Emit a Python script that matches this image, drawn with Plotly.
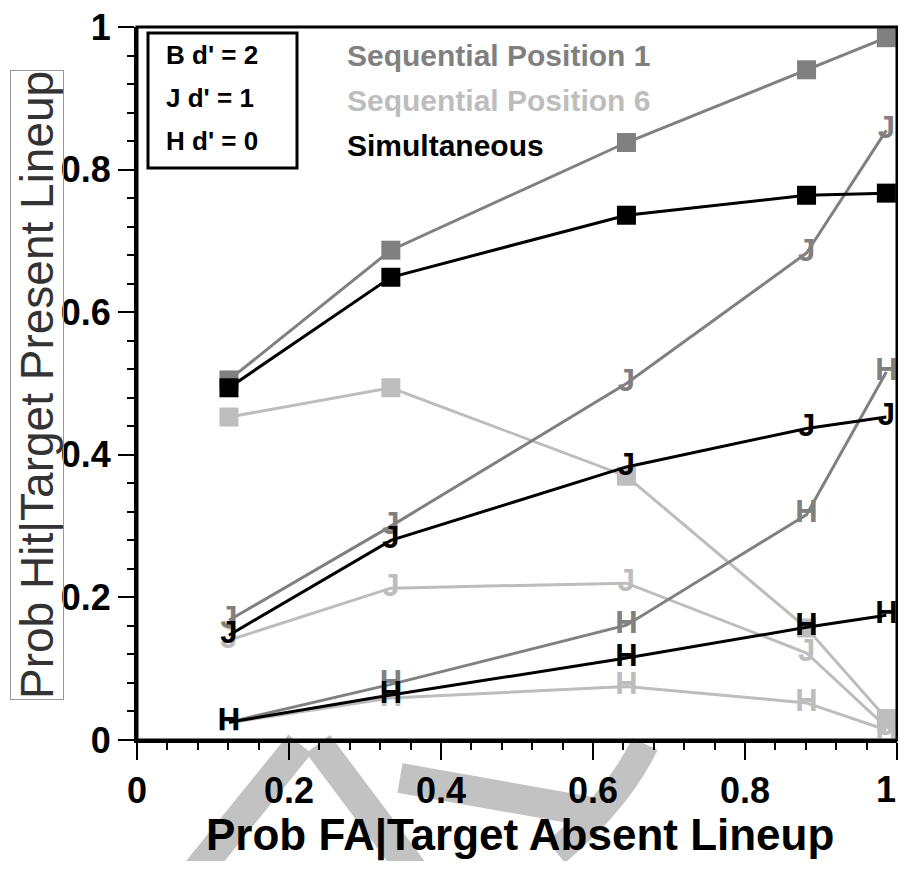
import plotly.graph_objects as go

# false-alarm rate (x) shared by every curve
fa_rate = [0.121, 0.334, 0.644, 0.881, 0.986]

# hit rates, one list per condition and d'
seq1_d2 = [0.505, 0.687, 0.838, 0.940, 0.985]
seq1_d1 = [0.168, 0.300, 0.500, 0.683, 0.855]
seq1_d0 = [0.025, 0.078, 0.161, 0.316, 0.516]

seq6_d2 = [0.453, 0.494, 0.370, 0.157, 0.030]
seq6_d1 = [0.140, 0.213, 0.220, 0.122, 0.018]
seq6_d0 = [0.024, 0.059, 0.075, 0.052, 0.014]

sim_d2 = [0.494, 0.649, 0.736, 0.764, 0.767]
sim_d1 = [0.147, 0.280, 0.383, 0.437, 0.453]
sim_d0 = [0.025, 0.063, 0.115, 0.158, 0.175]

x_tickvals = [0, 0.2, 0.4, 0.6, 0.8, 1]
x_ticktext = ["0", "0.2", "0.4", "0.6", "0.8", "1"]

conditions = ["Sequential Position 6", "Sequential Position 1", "Simultaneous"]
dprime_labels = ["B d' = 2", "J d' = 1", "H d' = 0"]
glyphs = ["B", "J", "H"]

COLORS = {
    "Sequential Position 1": "#808080",
    "Sequential Position 6": "#bdbdbd",
    "Simultaneous": "#000000",
}
SERIES = {
    "Sequential Position 1": [seq1_d2, seq1_d1, seq1_d0],
    "Sequential Position 6": [seq6_d2, seq6_d1, seq6_d0],
    "Simultaneous": [sim_d2, sim_d1, sim_d0],
}

FONT = "Liberation Sans, Arial, sans-serif"

# plot area in screen pixels; the page body adds 8px round the figure,
# so keep the figure within 906-16 x 869-16 (no scrollbars)
OFF = 8
L, R, T, B = 137, 897, 27, 740
W, H = 906 - 2 * OFF, 869 - 2 * OFF


def px(x, y):
    # screen pixel -> paper coords
    return (x - L) / (R - L), (B - y) / (B - T)


fig = go.Figure()

for cond in conditions:
    color = COLORS[cond]
    for glyph, ys in zip(glyphs, SERIES[cond]):
        if glyph == "B":
            fig.add_trace(go.Scatter(
                x=fa_rate, y=ys, mode="lines+markers",
                line=dict(color=color, width=3),
                marker=dict(symbol="square", size=19, color=color),
                cliponaxis=False, showlegend=False, name=cond,
            ))
        else:
            fig.add_trace(go.Scatter(
                x=fa_rate, y=ys, mode="lines+text",
                text=[glyph] * len(ys), textposition="middle center",
                textfont=dict(family=FONT, size=31, color=color, weight="bold"),
                line=dict(color=color, width=3),
                cliponaxis=False, showlegend=False, name=cond,
            ))

shapes = []

# frame round the plot area
shapes.append(dict(type="rect", xref="paper", yref="paper", x0=0, y0=0, x1=1, y1=1,
                   line=dict(color="black", width=3), layer="above"))

# legend box top-left
x0, y0 = px(148, 168)
x1, y1 = px(297, 33)
shapes.append(dict(type="rect", xref="paper", yref="paper", x0=x0, y0=y0, x1=x1, y1=y1,
                   line=dict(color="black", width=3), fillcolor="white", layer="above"))

# faint grey scribble below the axis
wm = "#c2c2c2"
for (ax, ay), (bx, by) in [((190, 880), (300, 744)), ((318, 744), (420, 880)), ((400, 778), (592, 812))]:
    a = px(ax, ay)
    b = px(bx, by)
    shapes.append(dict(type="line", xref="paper", yref="paper", x0=a[0], y0=a[1], x1=b[0], y1=b[1],
                       line=dict(color=wm, width=30), layer="below"))
p0, pc, p1 = px(556, 852), px(618, 800), px(645, 744)
shapes.append(dict(type="path", xref="paper", yref="paper",
                   path=f"M {p0[0]} {p0[1]} Q {pc[0]} {pc[1]} {p1[0]} {p1[1]}",
                   line=dict(color=wm, width=28), layer="below"))

annotations = []
for i, lab in enumerate(dprime_labels):
    ax, ay = px(164, 55 + 43 * i)
    annotations.append(dict(xref="paper", yref="paper", x=ax, y=ay, xanchor="left", yanchor="middle",
                            text=f"<b>{lab}</b>", showarrow=False,
                            font=dict(family=FONT, size=26, color="black")))

for i, cond in enumerate(["Sequential Position 1", "Sequential Position 6", "Simultaneous"]):
    ax, ay = px(345, 55 + 45 * i)
    annotations.append(dict(xref="paper", yref="paper", x=ax, y=ay, xanchor="left", yanchor="middle",
                            text=f"<b>{cond}</b>", showarrow=False,
                            font=dict(family=FONT, size=30, color=COLORS[cond])))

# last x tick label sits against the right edge, as in the original
ax, ay = px(898, 789)
annotations.append(dict(xref="paper", yref="paper", x=ax, y=ay, xanchor="right", yanchor="middle",
                        text=f"<b>{x_ticktext[-1]}</b>", showarrow=False,
                        font=dict(family=FONT, size=36, color="black")))

# axis titles
tx, ty = px(520, 835)
annotations.append(dict(xref="paper", yref="paper", x=tx, y=ty, xanchor="center", yanchor="middle",
                        text="<b>Prob FA|Target Absent Lineup</b>", showarrow=False,
                        font=dict(family=FONT, size=44, color="black")))
tx, ty = px(37, 385)
annotations.append(dict(xref="paper", yref="paper", x=tx, y=ty, xanchor="center", yanchor="middle",
                        text="Prob Hit|Target Present Lineup", showarrow=False, textangle=-90,
                        font=dict(family=FONT, size=46, color="#333333"),
                        bordercolor="#999999", borderwidth=1, borderpad=0))

axis_common = dict(
    range=[0, 1], showgrid=False, zeroline=False,
    showline=True, linecolor="black", linewidth=3, automargin=False,
    ticks="outside", tickcolor="black", tickwidth=2, ticklabeloverflow="allow",
    tickfont=dict(family=FONT, size=36, color="black", weight="bold"),
    minor=dict(dtick=0.04, ticks="outside", ticklen=7, tickwidth=2, tickcolor="black"),
)

fig.update_layout(
    width=W, height=H,
    margin=dict(l=L - OFF, r=W - (R - OFF), t=T - OFF, b=H - (B - OFF)),
    paper_bgcolor="white", plot_bgcolor="white",
    xaxis=dict(axis_common, ticklen=17, tickvals=x_tickvals,
               ticktext=x_ticktext[:-1] + [""]),
    yaxis=dict(axis_common, ticklen=16, dtick=0.2),
    shapes=shapes, annotations=annotations,
    showlegend=False,
)

fig.write_html("out.html")
